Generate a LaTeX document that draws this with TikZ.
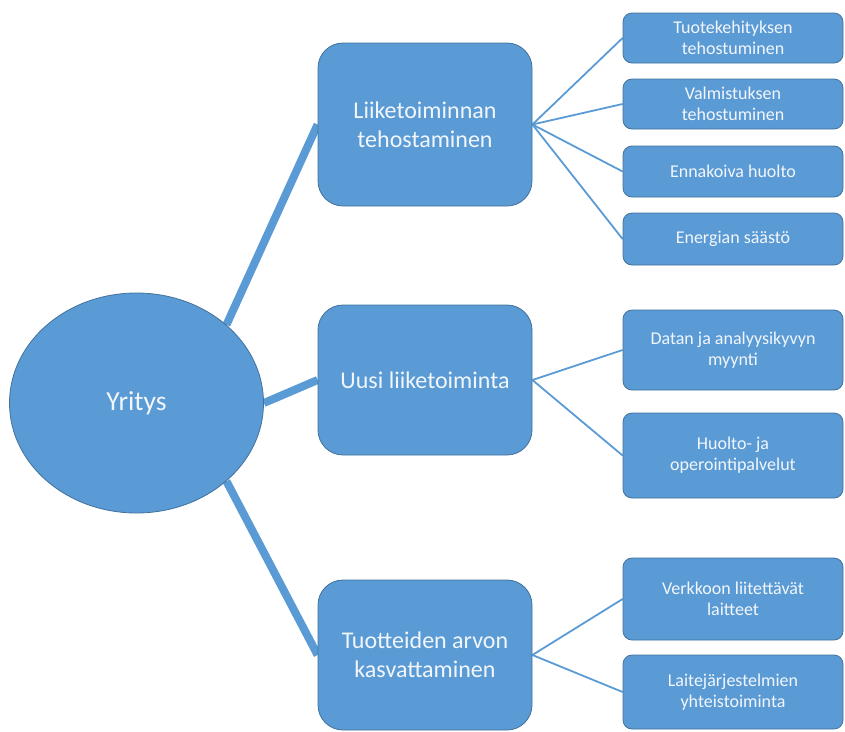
\documentclass[tikz,border=0pt]{standalone}
\usepackage{fontspec}
\setmainfont{Carlito}
\usetikzlibrary{shapes.geometric}
\pgfdeclarelayer{background}
\pgfsetlayers{background,main}
\definecolor{boxblue}{HTML}{5B9BD5}
\definecolor{boxedge}{HTML}{41719C}
\definecolor{linkblue}{HTML}{5B9BD5}
\definecolor{labeltext}{HTML}{F2F6FB}
\tikzset{
  rootnode/.style={ellipse, draw=boxedge, line width=0.8pt, fill=boxblue,
    minimum width=254pt, minimum height=220pt, inner sep=0pt,
    text=labeltext, font=\fontsize{27.5}{33}\selectfont},
  mainbox/.style={rectangle, rounded corners=25pt, draw=boxedge, line width=0.8pt,
    fill=boxblue, minimum width=214pt, inner sep=0pt, align=center,
    text=labeltext, font=\fontsize{24}{29}\selectfont},
  subbox/.style={rectangle, rounded corners=9pt, draw=boxedge, line width=0.8pt,
    fill=boxblue, minimum width=220pt, inner sep=0pt, align=center,
    text=labeltext, font=\fontsize{18}{21}\selectfont},
  thicklink/.style={draw=linkblue, line width=8pt},
  thinlink/.style={draw=linkblue, line width=1.8pt}
}
\begin{document}
\begin{tikzpicture}[x=1pt,y=-1pt]
\useasboundingbox (0,0) rectangle (845,731);

% central node
\node[rootnode] (yr) at (136.5,403) {Yritys};

% three main areas
\node[mainbox, minimum height=163pt] (m1) at (425,124.5) {Liiketoiminnan\\tehostaminen};
\node[mainbox, minimum height=150pt] (m2) at (425,380) {Uusi liiketoiminta};
\node[mainbox, minimum height=150pt] (m3) at (425,655) {Tuotteiden arvon\\kasvattaminen};

% detail boxes
\node[subbox, minimum height=50pt] (s1) at (733,38) {Tuotekehityksen\\tehostuminen};
\node[subbox, minimum height=50pt] (s2) at (733,104) {Valmistuksen\\tehostuminen};
\node[subbox, minimum height=51pt] (s3) at (733,171.5) {Ennakoiva huolto};
\node[subbox, minimum height=52pt] (s4) at (733,239) {Energian säästö};
\node[subbox, minimum height=80pt] (s5) at (733,350) {Datan ja analyysikyvyn\\myynti};
\node[subbox, minimum height=85pt] (s6) at (733,455.5) {Huolto- ja\\operointipalvelut};
\node[subbox, minimum height=82pt] (s7) at (733,599) {Verkkoon liitettävät\\laitteet};
\node[subbox, minimum height=74pt] (s8) at (733,692) {Laitejärjestelmien\\yhteistoiminta};

\begin{pgfonlayer}{background}
  \draw[thicklink] (yr.41) -- (m1.west);
  \draw[thicklink] (yr.east) -- (m2.west);
  \draw[thicklink] (yr.-41) -- (m3.west);
  \foreach \s in {s1,s2,s3,s4} \draw[thinlink] (m1.east) -- (\s.west);
  \foreach \s in {s5,s6} \draw[thinlink] (m2.east) -- (\s.west);
  \foreach \s in {s7,s8} \draw[thinlink] (m3.east) -- (\s.west);
\end{pgfonlayer}
\end{tikzpicture}
\end{document}
